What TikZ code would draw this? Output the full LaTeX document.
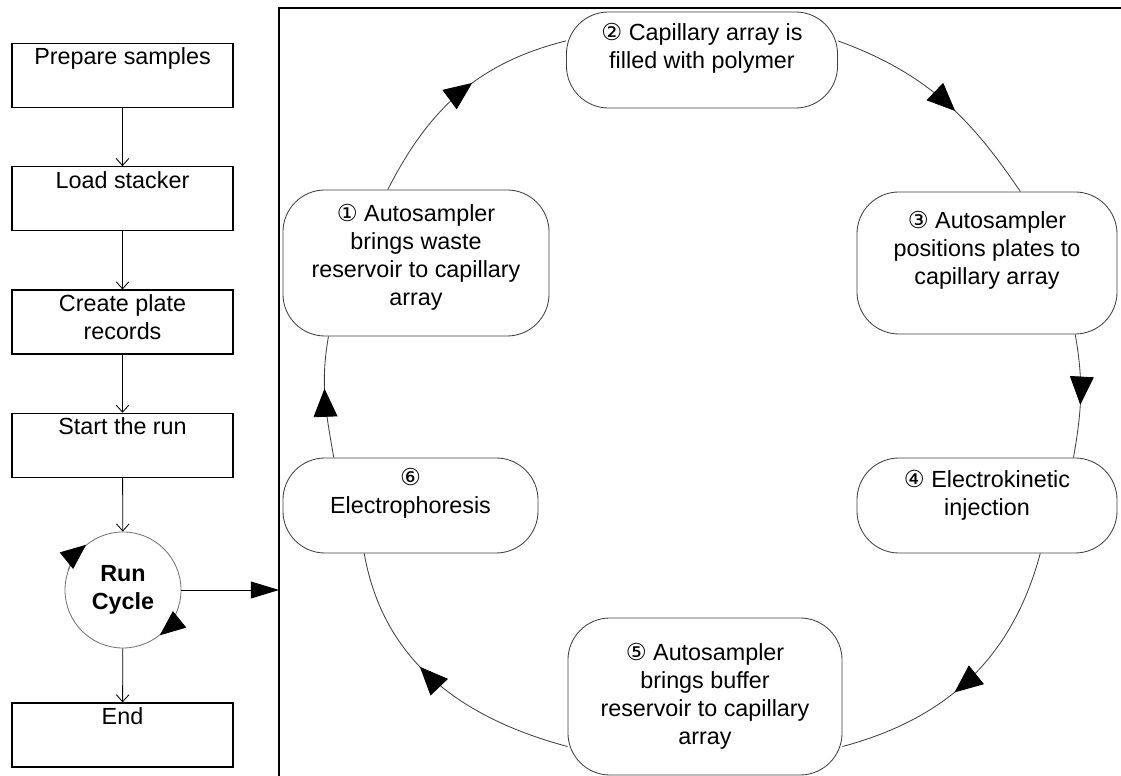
\documentclass[tikz,border=0pt]{standalone}
\usepackage{fontspec}
\setmainfont{Liberation Sans}
\newfontfamily\circfont{DejaVu Sans}
\usepackage{tikz}
\usetikzlibrary{arrows.meta,positioning,decorations.markings}
\newcommand{\cnum}[1]{{\circfont #1}}

\begin{document}
\begin{tikzpicture}[x=0.025cm, y=0.025cm,
    every node/.append style={font=\fontsize{16.6}{19.8}\selectfont},
    taskbox/.style={draw, line width=0.9pt, minimum width=5.525cm, minimum height=1.6cm},
    stage/.style={draw=black!75, line width=0.6pt, rounded corners=1.05cm, fill=white},
    flow/.style={-{Straight Barb[length=5pt,width=9pt]}, line width=0.6pt},
    rctip/.style={-{Triangle[length=18pt,width=15pt,color=black]}, draw=black!55, line width=0.6pt},
    cyc/.style={draw=black!75, line width=0.6pt, postaction={decorate},
      decoration={markings, mark=at position 0.57 with {\arrow{Triangle[length=20pt,width=17pt,color=black]}}}},
    node distance=1.45cm]
    \useasboundingbox (0,0) rectangle (1121,776);

    \node[taskbox, label={[anchor=north]north:Prepare samples}] (prep) at (122.5,700.5) {};
    \node[taskbox, below=of prep, label={[anchor=north]north:Load stacker}] (load) {};
    \node[taskbox, below=of load, label={[anchor=north, align=center]north:Create plate\\records}] (plate) {};
    \node[taskbox, below=of plate, label={[anchor=north]north:Start the run}] (start) {};
    \node[circle, draw=black!55, line width=0.6pt, minimum size=2.9cm, align=center,
          font=\fontsize{16.6}{19.8}\selectfont\bfseries] (rc) at (123,186) {Run\\Cycle};
    \node[taskbox, label={[anchor=north]north:End}] (end) at (122.5,41) {};

    \draw[flow] (prep) -- (load);
    \draw[flow] (load) -- (plate);
    \draw[flow] (plate) -- (start);
    \draw[flow] (start) -- (rc);
    \draw[flow] (rc) -- (end);
    \draw[rctip] (rc.160) arc[start angle=160, end angle=129, radius=58];
    \draw[rctip] (rc.335) arc[start angle=335, end angle=309, radius=58];

    \coordinate (cyclein) at (279,186);
    \draw[line width=1.4pt] (279,0) -- (279,768) -- (1121,768);
    \draw[-{Triangle[length=20pt,width=12pt]}, line width=0.7pt] (rc) -- (cyclein);

    \node[stage, minimum width=6.65cm, minimum height=3.65cm,
          label={[align=center, yshift=3.9pt]center:\cnum{①} Autosampler\\brings waste\\reservoir to capillary\\array}] (s1) at (416,513) {};
    \node[stage, minimum width=6.775cm, minimum height=2.4cm,
          label={[align=center, yshift=8.2pt]center:\cnum{②} Capillary array is\\filled with polymer}] (s2) at (702,716) {};
    \node[stage, minimum width=6.5cm, minimum height=3.55cm,
          label={[align=center, yshift=9.2pt]center:\cnum{③} Autosampler\\positions plates to\\capillary array}] (s3) at (987,513) {};
    \node[stage, minimum width=6.5cm, minimum height=2.375cm,
          label={[align=center, yshift=7.5pt]center:\cnum{④} Electrokinetic\\injection}] (s4) at (987,270.5) {};
    \node[stage, minimum width=6.85cm, minimum height=3.925cm,
          label={[align=center]center:\cnum{⑤} Autosampler\\brings buffer\\reservoir to capillary\\array}] (s5) at (705,79.5) {};
    \node[stage, minimum width=6.375cm, minimum height=2.375cm,
          label={[align=center, yshift=8.9pt]center:\cnum{⑥}\\Electrophoresis}] (s6) at (410.5,270.5) {};

    \draw[cyc] (s1.111) to[out=63, in=194] (s2.172);
    \draw[cyc] (s2.8) to[out=-20, in=124] (s3.65);
    \draw[cyc] (s3.-39) to[out=-80, in=80] (s4.29);
    \draw[cyc] (s4.-42) to[out=255, in=15] (s5.-20);
    \draw[cyc] (s5.200) to[out=165, in=-80] (s6.226);
    \draw[cyc] (s6.148) to[out=100, in=-100] (s1.220);
\end{tikzpicture}
\end{document}
